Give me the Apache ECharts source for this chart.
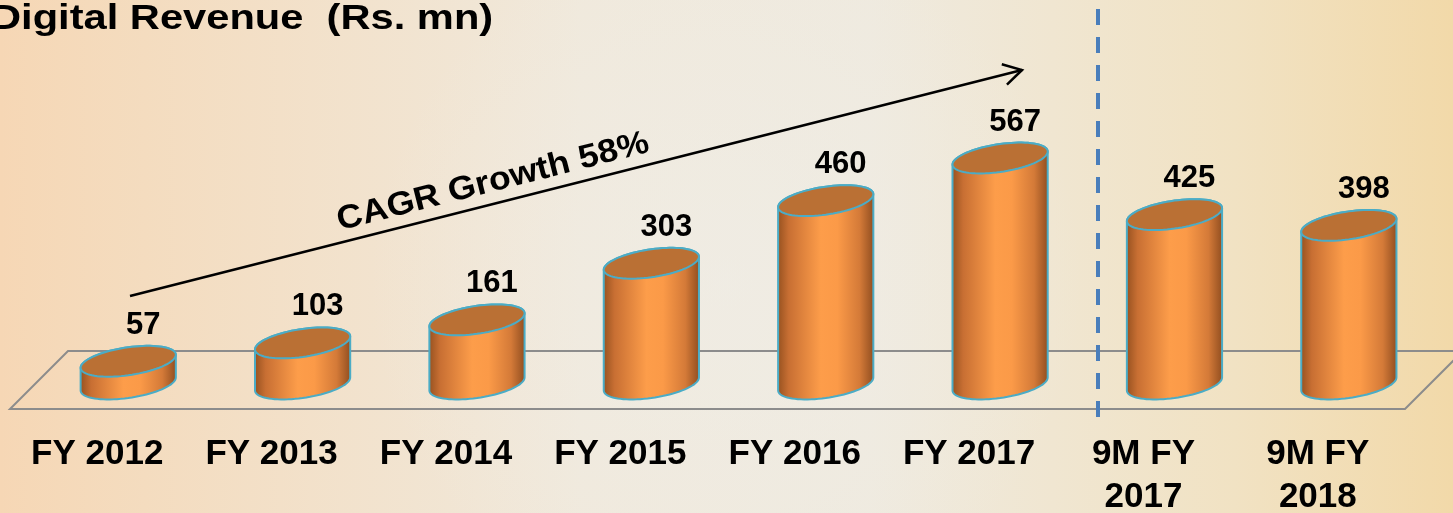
<!DOCTYPE html>
<html>
<head>
<meta charset="utf-8">
<script src="https://cdn.jsdelivr.net/npm/echarts@6/dist/echarts.min.js"></script>
<style>
html,body{margin:0;padding:0;}
#c{width:1453px;height:513px;}
</style>
</head>
<body>
<div id="c"></div>
<script>
var categories = ['FY 2012', 'FY 2013', 'FY 2014', 'FY 2015', 'FY 2016', 'FY 2017', '9M FY\n2017', '9M FY\n2018'];
var revenue = [57, 103, 161, 303, 460, 567, 425, 398];
var titleText = 'Digital Revenue  (Rs. mn)';
var cagrText = 'CAGR Growth 58%';

var chart = echarts.init(document.getElementById('c'));
var FONT = '"Liberation Sans", Arial, sans-serif';

function ellipsePts(cx, cy, rx, ry, sk, t0, t1, n) {
  var pts = [];
  for (var i = 0; i <= n; i++) {
    var t = t0 + (t1 - t0) * i / n;
    pts.push([cx + rx * Math.cos(t), cy + ry * Math.sin(t) - sk * Math.cos(t)]);
  }
  return pts;
}

function renderCylinder(params, api) {
  var idx = api.value(0), v = api.value(1);
  var top = api.coord([idx, v]);
  var base = api.coord([idx, 0]);
  var band = api.size([1, 0])[0];
  var rx = band * 0.273, ry = 14, sk = 6.5;
  var cx = top[0] + band * 0.178;
  var yT = top[1], yB = base[1];
  var body = [[cx - rx, yT + sk]]
    .concat(ellipsePts(cx, yB, rx, ry, sk, Math.PI, 0, 40))
    .concat(ellipsePts(cx, yT, rx, ry, sk, 0, -Math.PI, 40));
  var cap = ellipsePts(cx, yT, rx, ry, sk, 0, 2 * Math.PI, 80);
  return {
    type: 'group',
    children: [
      {
        type: 'polygon',
        shape: { points: body },
        style: {
          fill: new echarts.graphic.LinearGradient(0, 0, 1, 0, [
            { offset: 0, color: '#94501f' },
            { offset: 0.12, color: '#c86f33' },
            { offset: 0.45, color: '#fd9d4a' },
            { offset: 0.62, color: '#fb9a48' },
            { offset: 0.85, color: '#d47a38' },
            { offset: 1, color: '#8e4c1f' }
          ]),
          stroke: '#4bacc6',
          lineWidth: 2
        }
      },
      {
        type: 'polygon',
        shape: { points: cap },
        style: { fill: '#ba7034', stroke: '#4bacc6', lineWidth: 2 }
      },
      {
        type: 'text',
        style: {
          text: String(v),
          x: cx + 15,
          y: yT - 36,
          align: 'center',
          verticalAlign: 'middle',
          font: 'bold 31px ' + FONT,
          fill: '#000'
        }
      }
    ]
  };
}

function renderFloor(params, api) {
  var cs = params.coordSys;
  var y0 = api.coord([0, 0])[1];
  var yf = y0 + 25, yb = y0 - 33, sh = 58;
  var x1 = cs.x, x2 = cs.x + cs.width;
  return {
    type: 'polygon',
    shape: { points: [[x1, yf], [x2, yf], [x2 + sh, yb], [x1 + sh, yb]] },
    style: { fill: 'none', stroke: '#8c8c8c', lineWidth: 2 },
    silent: true
  };
}

// arrow geometry (annotation)
var ax0 = 130, ay0 = 296, ax1 = 1022, ay1 = 70;
var ang = Math.atan2(ay0 - ay1, ax0 - ax1);
var headLen = 21, headA = 30 * Math.PI / 180;
var head = [
  [ax1 + headLen * Math.cos(ang + headA), ay1 + headLen * Math.sin(ang + headA)],
  [ax1, ay1],
  [ax1 + headLen * Math.cos(ang - headA), ay1 + headLen * Math.sin(ang - headA)]
];
var rot = Math.atan2(ay0 - ay1, ax1 - ax0);

chart.setOption({
  animation: false,
  backgroundColor: {
    type: 'linear', x: 0, y: 0, x2: 1, y2: 0,
    colorStops: [
      { offset: 0, color: '#f6d7b5' },
      { offset: 0.1, color: '#f4dcbf' },
      { offset: 0.4, color: '#f0e9dc' },
      { offset: 0.6, color: '#efeadf' },
      { offset: 0.85, color: '#f1e2c3' },
      { offset: 1, color: '#f2d9a9' }
    ]
  },
  grid: { left: 10, right: 48, top: 105, bottom: 129, containLabel: false, outerBoundsMode: 'none' },
  xAxis: {
    type: 'category',
    data: categories,
    axisLine: { show: false },
    axisTick: { show: false },
    axisLabel: {
      interval: 0,
      margin: 49,
      color: '#000',
      fontFamily: FONT,
      fontWeight: 'bold',
      fontSize: 35,
      lineHeight: 43
    }
  },
  yAxis: {
    type: 'value', min: 0, max: 700, show: false, splitLine: { show: false }
  },
  series: [
    {
      type: 'custom',
      renderItem: renderFloor,
      data: [[0]],
      z: 1,
      silent: true
    },
    {
      type: 'custom',
      renderItem: renderCylinder,
      data: revenue.map(function (v, i) { return [i, v]; }),
      encode: { x: 0, y: 1 },
      z: 2
    }
  ],
  graphic: [
    {
      type: 'rect', z: -1, silent: true,
      shape: { x: 0, y: 0, width: 1453, height: 513 },
      style: {
        fill: {
          type: 'radial', x: 0.5, y: 0.55, r: 0.7,
          colorStops: [
            { offset: 0, color: 'rgba(240,238,232,0.55)' },
            { offset: 1, color: 'rgba(240,238,232,0)' }
          ]
        }
      }
    },
    {
      type: 'line', z: 5,
      shape: { x1: 1098, y1: -19, x2: 1098, y2: 417 },
      style: { stroke: '#4a7ebb', lineWidth: 4, lineDash: [16, 12] }
    },
    {
      type: 'line', z: 5,
      shape: { x1: ax0, y1: ay0, x2: ax1, y2: ay1 },
      style: { stroke: '#000', lineWidth: 2.5 }
    },
    {
      type: 'polyline', z: 5,
      shape: { points: head },
      style: { stroke: '#000', lineWidth: 2.5, fill: null }
    },
    {
      type: 'text', z: 5,
      x: 493, y: 182, rotation: rot,
      style: {
        text: cagrText, align: 'center', verticalAlign: 'middle',
        font: 'bold 33px ' + FONT, fill: '#000'
      },
      scaleX: 1.08
    },
    {
      type: 'text', z: 5,
      x: -9, y: 2,
      scaleX: 1.19,
      style: {
        text: titleText, align: 'left', verticalAlign: 'top',
        font: 'bold 35px ' + FONT, fill: '#000'
      }
    }
  ]
});
</script>
</body>
</html>
